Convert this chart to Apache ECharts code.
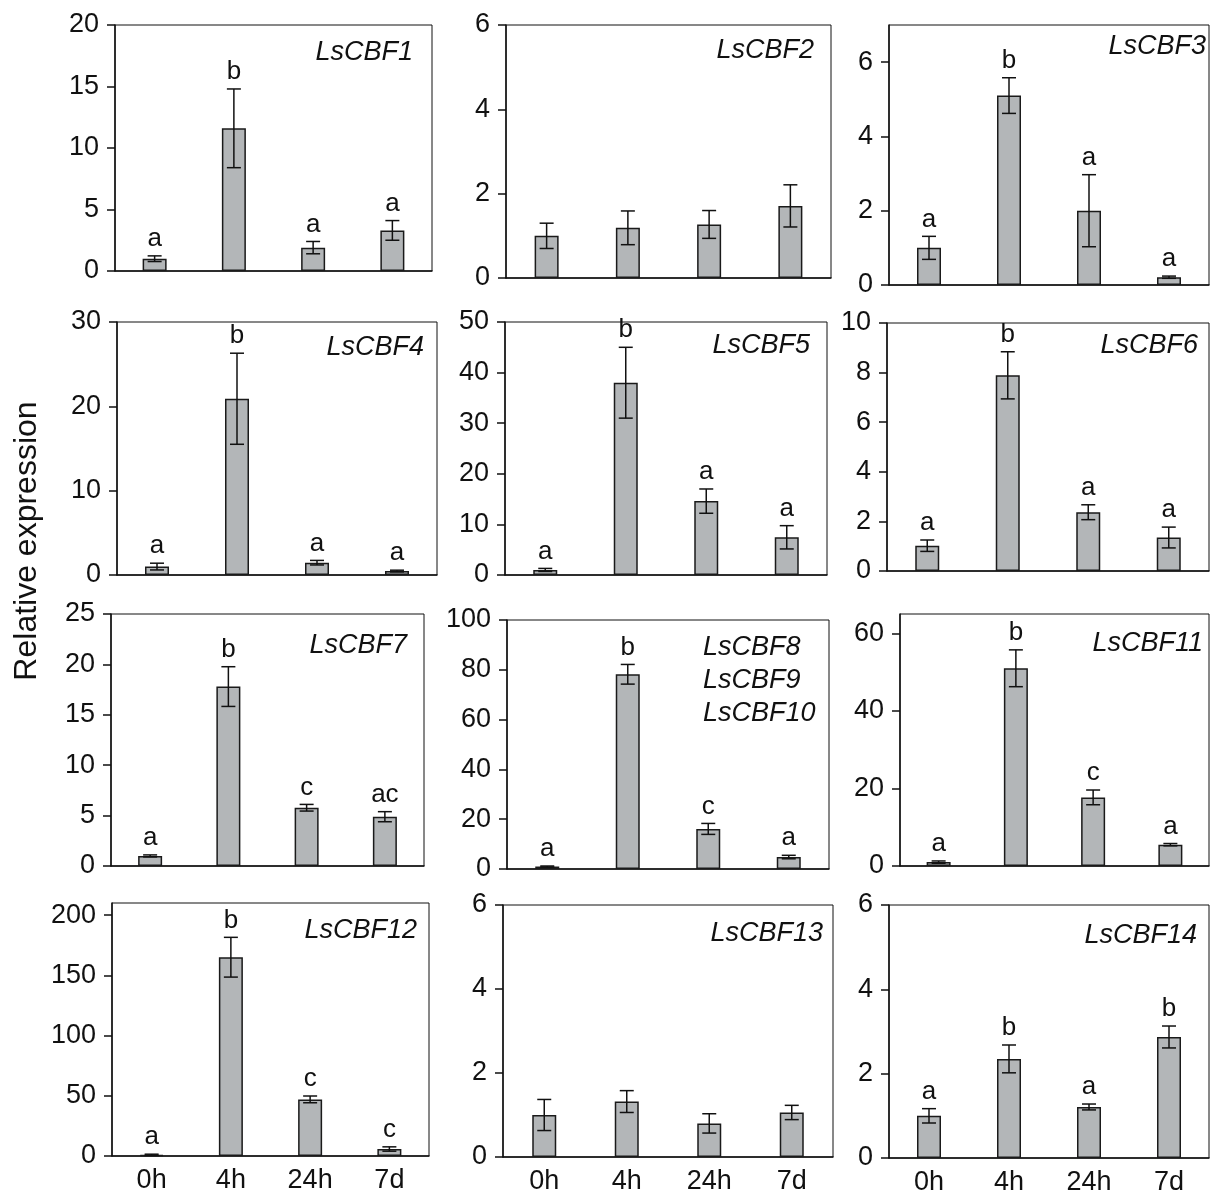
<!DOCTYPE html>
<html>
<head>
<meta charset="utf-8">
<script src="https://cdn.jsdelivr.net/npm/echarts@6/dist/echarts.min.js"></script>
<style>
  html, body { margin: 0; padding: 0; background: #fff; }
  #chart { width: 1211px; height: 1197px; }
</style>
</head>
<body>
<div id="chart"></div>
<script>
// time points after cold treatment
const times = ['0h', '4h', '24h', '7d']
const genes = ['LsCBF1', 'LsCBF2', 'LsCBF3', 'LsCBF4', 'LsCBF5', 'LsCBF6',
  'LsCBF7', 'LsCBF8\nLsCBF9\nLsCBF10', 'LsCBF11', 'LsCBF12', 'LsCBF13', 'LsCBF14']

// mean relative expression per panel (0h, 4h, 24h, 7d)
const means = [
  [1.0, 11.6, 1.9, 3.3],
  [1.0, 1.19, 1.27, 1.71],
  [1.0, 5.1, 2.0, 0.21],
  [1.0, 20.9, 1.46, 0.47],
  [1.0, 38.0, 14.6, 7.45],
  [1.02, 7.89, 2.37, 1.35],
  [1.0, 17.8, 5.78, 4.89],
  [1.0, 78.2, 16.1, 4.8],
  [1.0, 51.0, 17.7, 5.5],
  [1.0, 165, 47, 5.8],
  [1.0, 1.32, 0.8, 1.06],
  [1.0, 2.35, 1.21, 2.87]
]
// standard errors
const errors = [
  [0.23, 3.2, 0.5, 0.8],
  [0.3, 0.4, 0.33, 0.5],
  [0.31, 0.48, 0.97, 0.03],
  [0.4, 5.4, 0.27, 0.1],
  [0.3, 7.0, 2.4, 2.3],
  [0.23, 0.95, 0.3, 0.42],
  [0.1, 1.97, 0.33, 0.5],
  [0.2, 3.95, 2.2, 0.7],
  [0.3, 4.75, 1.9, 0.3],
  [0.5, 16.5, 2.8, 1.8],
  [0.37, 0.26, 0.23, 0.17],
  [0.17, 0.33, 0.07, 0.26]
]
// significance letters
const letters = [
  ['a', 'b', 'a', 'a'],
  [],
  ['a', 'b', 'a', 'a'],
  ['a', 'b', 'a', 'a'],
  ['a', 'b', 'a', 'a'],
  ['a', 'b', 'a', 'a'],
  ['a', 'b', 'c', 'ac'],
  ['a', 'b', 'c', 'a'],
  ['a', 'b', 'c', 'a'],
  ['a', 'b', 'c', 'c'],
  [],
  ['a', 'b', 'a', 'b']
]
const yMax = [20, 6, 7, 30, 50, 10, 25, 100, 65, 210, 6, 6]
const yTicks = [
  [0, 5, 10, 15, 20],
  [0, 2, 4, 6],
  [0, 2, 4, 6],
  [0, 10, 20, 30],
  [0, 10, 20, 30, 40, 50],
  [0, 2, 4, 6, 8, 10],
  [0, 5, 10, 15, 20, 25],
  [0, 20, 40, 60, 80, 100],
  [0, 20, 40, 60],
  [0, 50, 100, 150, 200],
  [0, 2, 4, 6],
  [0, 2, 4, 6]
]

// panel boxes: left, top, right, bottom (px)
const boxes = [
  [115, 25, 432, 271], [506, 25, 831, 278], [889, 25, 1209, 285],
  [117, 322, 437, 575], [505, 322, 827, 575], [887, 323, 1209, 571],
  [111, 614, 424, 866], [507, 620, 829, 869], [900, 614, 1209, 866],
  [112, 903, 429, 1156], [503, 905, 833, 1157], [889, 905, 1209, 1158]
]
// gene label anchor (right edge / middle y)
const labelPos = [
  [413, 52], [814, 50], [1206, 46],
  [424, 347], [810, 345], [1198, 345],
  [407, 645], null, [1203, 643],
  [417, 930], [823, 933], [1197, 935]
]

const FONT = '"Liberation Sans", Arial, sans-serif'
const INK = '#111'

const chart = echarts.init(document.getElementById('chart'))

const grids = [], xAxes = [], yAxes = [], series = [], graphics = []

boxes.forEach(([l, t, r, b], i) => {
  grids.push({ left: l, top: t, width: r - l, height: b - t, show: true,
    borderColor: INK, borderWidth: 1, backgroundColor: 'transparent' })

  xAxes.push({
    gridIndex: i,
    type: 'category',
    data: times,
    axisTick: { show: false },
    axisLine: { lineStyle: { color: INK, width: 1.5 } },
    axisLabel: { show: i >= 9, color: INK, fontSize: 27, fontFamily: FONT, margin: 11 }
  })

  yAxes.push({
    gridIndex: i,
    type: 'value',
    min: 0,
    max: yMax[i],
    splitLine: { show: false },
    axisLine: { show: true, lineStyle: { color: INK, width: 1.5 } },
    axisTick: { show: true, length: 8, customValues: yTicks[i], lineStyle: { color: INK, width: 1.5 } },
    axisLabel: { color: INK, fontSize: 27, fontFamily: FONT, margin: 16, customValues: yTicks[i] }
  })

  series.push({
    type: 'bar',
    xAxisIndex: i,
    yAxisIndex: i,
    barWidth: 24,
    data: means[i],
    itemStyle: { color: '#b3b6b8', borderColor: '#1a1a1a', borderWidth: 1.5 },
    silent: true
  })

  series.push({
    type: 'custom',
    xAxisIndex: i,
    yAxisIndex: i,
    silent: true,
    z: 5,
    data: means[i].map((m, k) => [k, m, errors[i][k]]),
    encode: { x: 0, y: 1 },
    renderItem: (params, api) => {
      const x = api.value(0), m = api.value(1), e = api.value(2)
      const hi = api.coord([x, m + e])
      const lo = api.coord([x, Math.max(m - e, 0)])
      const line = { stroke: INK, lineWidth: 1.5 }
      const cap = 7
      const children = [
        { type: 'line', shape: { x1: hi[0], y1: hi[1], x2: lo[0], y2: lo[1] }, style: line },
        { type: 'line', shape: { x1: hi[0] - cap, y1: hi[1], x2: hi[0] + cap, y2: hi[1] }, style: line },
        { type: 'line', shape: { x1: lo[0] - cap, y1: lo[1], x2: lo[0] + cap, y2: lo[1] }, style: line }
      ]
      const letter = letters[i][params.dataIndex]
      if (letter) {
        children.push({
          type: 'text', x: hi[0], y: hi[1] - 4,
          style: { text: letter, fill: INK, font: '26px ' + FONT, align: 'center', verticalAlign: 'bottom' }
        })
      }
      return { type: 'group', children }
    }
  })

  if (labelPos[i]) {
    graphics.push({
      type: 'text', x: labelPos[i][0], y: labelPos[i][1], z: 10,
      style: { text: genes[i], fill: INK, font: 'italic 27px ' + FONT, align: 'right', verticalAlign: 'middle' }
    })
  }
})

// stacked label for LsCBF8/9/10
graphics.push({
  type: 'text', x: 703, y: 631, z: 10,
  style: { text: genes[7], fill: INK, font: 'italic 27px ' + FONT, align: 'left', verticalAlign: 'top', lineHeight: 33 }
})

// shared y title
graphics.push({
  type: 'text', x: 27, y: 541, rotation: Math.PI / 2,
  style: { text: 'Relative expression', fill: INK, font: '32px ' + FONT, align: 'center', verticalAlign: 'middle' }
})

chart.setOption({
  animation: false,
  grid: grids,
  xAxis: xAxes,
  yAxis: yAxes,
  series,
  graphic: graphics
})
</script>
</body>
</html>
